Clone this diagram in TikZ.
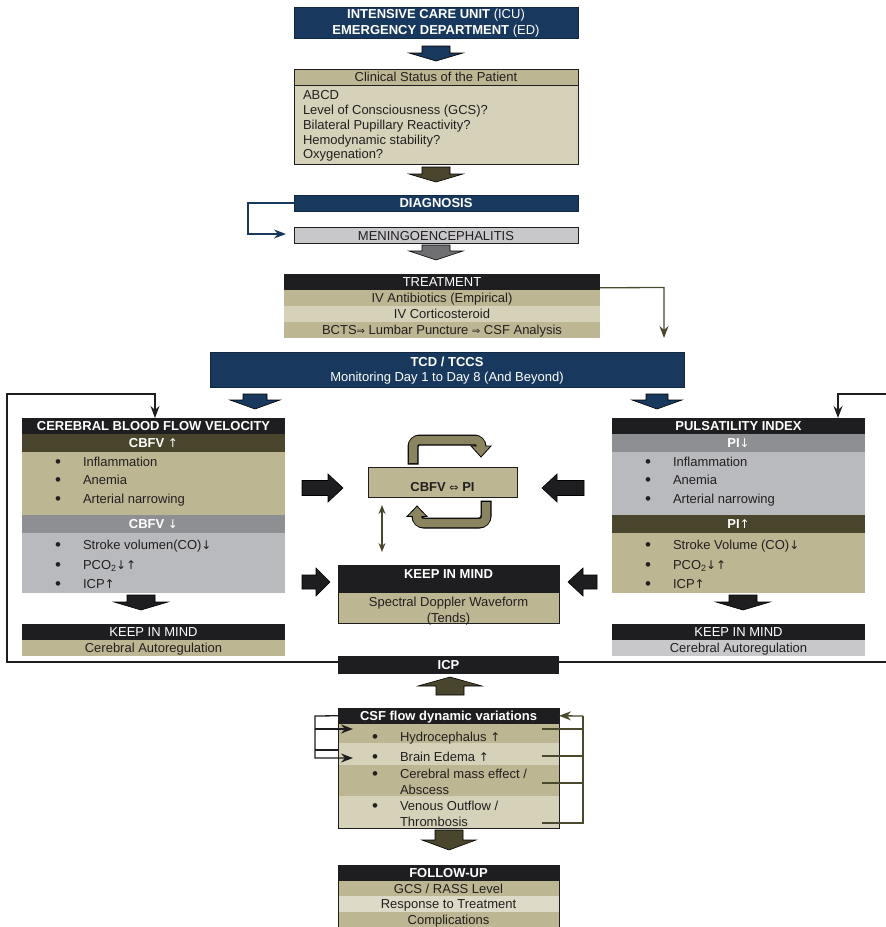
\documentclass[tikz,border=0pt]{standalone}
\usepackage{fontspec}
\setmainfont{Liberation Sans}
\newfontfamily\arrowfont{DejaVu Sans}
\usetikzlibrary{arrows.meta,calc}

\definecolor{navy}{RGB}{24,57,93}
\definecolor{khaki}{RGB}{188,182,146}
\definecolor{paleKhaki}{RGB}{214,210,185}
\definecolor{paleKhakiB}{RGB}{222,218,200}
\definecolor{darkOlive}{RGB}{74,69,45}
\definecolor{inkBlack}{RGB}{30,30,32}
\definecolor{ink}{RGB}{35,31,32}
\definecolor{midGray}{RGB}{142,143,146}
\definecolor{bodyGray}{RGB}{185,186,190}
\definecolor{paleGray}{RGB}{200,200,203}
\definecolor{loopOlive}{RGB}{138,132,96}
\definecolor{lineOlive}{RGB}{74,72,45}
\definecolor{arrowGray}{RGB}{112,112,114}

\newcommand{\fs}{\fontsize{13}{15}\selectfont}
\newcommand{\implies}{{\arrowfont\mdseries\fontsize{10}{10}\selectfont ⇒}}
\newcommand{\iffarrow}{{\arrowfont\mdseries\fontsize{11}{11}\selectfont ⇔}}
\newcommand{\up}{{\arrowfont\mdseries\fontsize{12}{12}\selectfont ↑}}
\newcommand{\dn}{{\arrowfont\mdseries\fontsize{12}{12}\selectfont ↓}}
\newcommand{\subtwo}{\raisebox{-0.3ex}{\fontsize{9}{9}\selectfont 2}}
\newcommand{\dotmark}{{\fontsize{17}{17}\selectfont •}}

% block arrow, vertical: fill, x centre, y shaft end, y head base, y tip, half shaft, half head
\newcommand{\blockV}[7]{\filldraw[fill=#1,draw=black,line width=0.6pt]
  (#2-#6,#3) -- (#2+#6,#3) -- (#2+#6,#4) -- (#2+#7,#4) -- (#2,#5) -- (#2-#7,#4) -- (#2-#6,#4) -- cycle;}
% block arrow, horizontal: fill, y centre, x shaft end, x head base, x tip, half shaft, half head
\newcommand{\blockH}[7]{\filldraw[fill=#1,draw=black,line width=0.6pt]
  (#3,#2-#6) -- (#4,#2-#6) -- (#4,#2-#7) -- (#5,#2) -- (#4,#2+#7) -- (#4,#2+#6) -- (#3,#2+#6) -- cycle;}

\begin{document}
\begin{tikzpicture}[x=1pt,y=-1pt,
  box/.style={anchor=north west,inner sep=0pt,outer sep=0pt,font=\fs,text height=9.3pt,text depth=0pt,text=ink},
  navybox/.style={box,fill=navy,text=white,draw=navy!70!black,line width=0.6pt},
  blackbar/.style={box,fill=inkBlack,text=white},
  olivebar/.style={box,fill=darkOlive,text=white},
  graybar/.style={box,fill=midGray,text=white},
  txt/.style={inner sep=0pt,outer sep=0pt,anchor=base west,font=\fs,text=ink},
  ctxt/.style={txt,anchor=base},
  bul/.style={txt,anchor=base},
  edged/.style={draw=inkBlack,line width=1pt},
  link/.style={line width=1.3pt,line join=miter},
  headed/.style={-{Stealth[length=12pt,width=9pt]}},
]
\useasboundingbox (0,0) rectangle (886,927);
\fill[white] (0,0) rectangle (886,927);
\clip (0,0) rectangle (886,927);

% ---------- admission ----------
\node[navybox,minimum width=284,minimum height=31] (icu) at (294,7) {};
\node[ctxt,text=white] (icuA) at (436,18.5) {\textbf{INTENSIVE CARE UNIT} (ICU)};
\node[ctxt,text=white] (icuB) at (436,34) {\textbf{EMERGENCY DEPARTMENT} (ED)};
\blockV{navy}{436}{46}{53}{61}{14}{27}

% ---------- clinical status ----------
\node[box,fill=khaki,minimum width=284,minimum height=16] (clinhead) at (294,69) {Clinical Status of the Patient};
\node[box,fill=paleKhaki,minimum width=284,minimum height=79] (clinbody) at (294,85) {};
\draw[edged] (clinhead.north west) rectangle (clinbody.south east);
\draw[edged] (clinhead.south west) -- (clinhead.south east);
\node[txt] (cl1) at (303,99) {ABCD};
\node[txt] (cl2) at (303,114) {Level of Consciousness (GCS)?};
\node[txt] (cl3) at (303,129) {Bilateral Pupillary Reactivity?};
\node[txt] (cl4) at (303,144) {Hemodynamic stability?};
\node[txt] (cl5) at (303,158.5) {Oxygenation?};
\blockV{darkOlive}{436}{167}{174}{182}{14}{27}

% ---------- diagnosis ----------
\node[navybox,font=\fs\bfseries,minimum width=284,minimum height=16] (diag) at (294,195) {DIAGNOSIS};
\node[box,fill=paleGray,draw=inkBlack,line width=0.8pt,minimum width=284,minimum height=16] (menin) at (294,227.5) {MENINGOENCEPHALITIS};
\coordinate (dgA) at (248,203);
\coordinate (dgB) at (248,234);
\coordinate (dgC) at (286,234);
\draw[link,navy,headed] (diag.west) -- (dgA) -- (dgB) -- (dgC);
\blockV{arrowGray}{436}{245}{251}{260}{14}{27}

% ---------- treatment ----------
\node[blackbar,minimum width=316,minimum height=15.5] (treat) at (284,274) {TREATMENT};
\node[box,fill=khaki,minimum width=316,minimum height=16] (trA) at (284,289.5) {IV Antibiotics (Empirical)};
\node[box,fill=paleKhaki,minimum width=316,minimum height=16] (trB) at (284,305.5) {IV Corticosteroid};
\node[box,fill=khaki,minimum width=316,minimum height=16] (trC) at (284,321.5) {BCTS\implies{} Lumbar Puncture \implies{} CSF Analysis};
\coordinate (trK) at (664,287.5);
\coordinate (trE) at (664,338);
\draw[link,lineOlive,headed] ([yshift=-6pt]treat.east) -- (trK) -- (trE);

% ---------- monitoring ----------
\node[navybox,minimum width=474,minimum height=35] (tcd) at (210,352.5) {};
\node[ctxt,text=white,font=\fs\bfseries] (tcdA) at (447,366) {TCD / TCCS};
\node[ctxt,text=white] (tcdB) at (447,381) {Monitoring Day 1 to Day 8 (And Beyond)};
\blockV{navy}{255}{394}{400}{409}{12}{25}
\blockV{navy}{657}{394}{400}{409}{11}{25}

% ---------- cerebral blood flow velocity ----------
\node[blackbar,font=\fs\bfseries,minimum width=263,minimum height=15.5] (cbfvhead) at (22,418) {CEREBRAL BLOOD FLOW VELOCITY};
\node[olivebar,font=\fs\bfseries,minimum width=263,minimum height=18.5] (cbfvup) at (22,433.5) {CBFV \up};
\node[box,fill=khaki,minimum width=263,minimum height=63] (cbfvupbody) at (22,452) {};
\node[graybar,font=\fs\bfseries,minimum width=263,minimum height=18] (cbfvdown) at (22,515) {CBFV \dn};
\node[box,fill=bodyGray,minimum width=263,minimum height=60] (cbfvdownbody) at (22,533) {};
\node[bul] (lb1) at (58,467.5) {\dotmark};
\node[bul] (lb2) at (58,485.5) {\dotmark};
\node[bul] (lb3) at (58,504) {\dotmark};
\node[bul] (lb4) at (58,550.5) {\dotmark};
\node[bul] (lb5) at (58,570) {\dotmark};
\node[bul] (lb6) at (58,589.5) {\dotmark};
\node[txt] (lt1) at (83,466.5) {Inflammation};
\node[txt] (lt2) at (83,484.5) {Anemia};
\node[txt] (lt3) at (83,503) {Arterial narrowing};
\node[txt] (lt4) at (83,549.5) {Stroke volumen(CO)\dn};
\node[txt] (lt5) at (83,569) {PCO\subtwo\dn\up};
\node[txt] (lt6) at (83,588.5) {ICP\up};
\blockV{inkBlack}{141}{595}{602}{610}{14}{27}
\node[blackbar,minimum width=263,minimum height=16] (lkeep) at (22,624) {KEEP IN MIND};
\node[box,fill=khaki,minimum width=263,minimum height=16] (lauto) at (22,640) {Cerebral Autoregulation};

% ---------- pulsatility index ----------
\node[blackbar,font=\fs\bfseries,minimum width=253,minimum height=15.5] (pihead) at (612,418) {PULSATILITY INDEX};
\node[graybar,font=\fs\bfseries,minimum width=253,minimum height=18.5] (pidown) at (612,433.5) {PI\dn};
\node[box,fill=bodyGray,minimum width=253,minimum height=63] (pidownbody) at (612,452) {};
\node[olivebar,font=\fs\bfseries,minimum width=253,minimum height=18] (piup) at (612,515) {PI\up};
\node[box,fill=khaki,minimum width=253,minimum height=60] (piupbody) at (612,533) {};
\node[bul] (rb1) at (648,467.5) {\dotmark};
\node[bul] (rb2) at (648,485.5) {\dotmark};
\node[bul] (rb3) at (648,504) {\dotmark};
\node[bul] (rb4) at (648,550.5) {\dotmark};
\node[bul] (rb5) at (648,570) {\dotmark};
\node[bul] (rb6) at (648,589.5) {\dotmark};
\node[txt] (rt1) at (673,466.5) {Inflammation};
\node[txt] (rt2) at (673,484.5) {Anemia};
\node[txt] (rt3) at (673,503) {Arterial narrowing};
\node[txt] (rt4) at (673,549.5) {Stroke Volume (CO)\dn};
\node[txt] (rt5) at (673,569) {PCO\subtwo\dn\up};
\node[txt] (rt6) at (673,588.5) {ICP\up};
\blockV{inkBlack}{743}{595}{602}{610}{14}{27}
\node[blackbar,minimum width=253,minimum height=16] (rkeep) at (612,624) {KEEP IN MIND};
\node[box,fill=paleGray,minimum width=253,minimum height=16] (rauto) at (612,640) {Cerebral Autoregulation};

% ---------- centre ----------
\blockH{inkBlack}{488}{302}{328}{343}{7.5}{14}
\blockH{inkBlack}{488}{584}{557}{542}{7.5}{14}
\blockH{inkBlack}{582}{302}{316}{330}{7}{14}
\blockH{inkBlack}{582}{597}{583}{568}{7}{14}

\node[box,fill=khaki,draw=inkBlack,line width=1pt,minimum width=149,minimum height=30] (ratio) at (368,467) {};
\node[ctxt,font=\fs\bfseries] (ratiotxt) at (442.5,491.5) {CBFV \iffarrow{} PI};

% cycling arrows round the ratio box
\draw[black,line width=11pt,rounded corners=7pt] (413,464.5) -- (413,440) -- (481,440) -- (481,447.5);
\filldraw[fill=loopOlive,draw=black,line width=0.8pt] (471,446) -- (491,446) -- (481,457) -- cycle;
\draw[loopOlive,line width=8.5pt,rounded corners=6pt] (413,463) -- (413,440) -- (481,440) -- (481,447.5);
\draw[black,line width=11pt,rounded corners=7pt] (486,500.5) -- (486,523) -- (417,523) -- (417,515);
\filldraw[fill=loopOlive,draw=black,line width=0.8pt] (407,516.5) -- (427,516.5) -- (417,506) -- cycle;
\draw[loopOlive,line width=8.5pt,rounded corners=6pt] (486,502) -- (486,523) -- (417,523) -- (417,515);

\coordinate (dblA) at (382,505);
\coordinate (dblB) at (382,552);
\draw[lineOlive,line width=1.2pt,{Stealth[length=9pt,width=7pt]}-{Stealth[length=9pt,width=7pt]}] (dblA) -- (dblB);

\node[box,fill=khaki,minimum width=221,minimum height=58] (keepc) at (338,565) {};
\node[box,fill=inkBlack,minimum width=221,minimum height=28] (keepchead) at (338,565) {};
\draw[edged] (keepc.north west) rectangle (keepc.south east);
\node[ctxt,text=white,font=\fs\bfseries] (keepcA) at (448.5,578) {KEEP IN MIND};
\node[ctxt] (keepcB) at (448.5,606) {Spectral Doppler Waveform};
\node[ctxt] (keepcC) at (448.5,622) {(Tends)};

% ---------- ICP and the feedback loops ----------
\node[blackbar,font=\fs\bfseries,minimum width=221,minimum height=18] (icp) at (338,656) {ICP};
\coordinate (lloopA) at (7,662);
\coordinate (lloopB) at (7,394);
\coordinate (lloopC) at (155,394);
\draw[link,inkBlack,headed] ([yshift=3pt]icp.west) -- (lloopA) -- (lloopB) -- (lloopC) -- (lloopC |- cbfvhead.north);
\coordinate (rloopA) at (893,662);
\coordinate (rloopB) at (893,394);
\coordinate (rloopC) at (838,394);
\draw[link,inkBlack,headed] ([yshift=3pt]icp.east) -- (rloopA) -- (rloopB) -- (rloopC) -- (rloopC |- pihead.north);
\blockV{darkOlive}{450}{695}{686}{677}{14}{32}

% ---------- CSF dynamics ----------
\node[blackbar,font=\fs\bfseries,minimum width=221,minimum height=15.5] (csfhead) at (338,708) {CSF flow dynamic variations};
\node[box,fill=khaki,minimum width=221,minimum height=19.5] (hydro) at (338,723.5) {};
\node[box,fill=paleKhaki,minimum width=221,minimum height=22] (edema) at (338,743) {};
\node[box,fill=khaki,minimum width=221,minimum height=31] (mass) at (338,765) {};
\node[box,fill=paleKhaki,minimum width=221,minimum height=32] (venous) at (338,796) {};
\draw[edged] (csfhead.north west) rectangle (venous.south east);
\node[bul] (cb1) at (375,742.5) {\dotmark};
\node[bul] (cb2) at (375,762) {\dotmark};
\node[bul] (cb3) at (375,779.5) {\dotmark};
\node[bul] (cb4) at (375,811.5) {\dotmark};
\node[txt] (ct1) at (400,741.5) {Hydrocephalus \up};
\node[txt] (ct2) at (400,761) {Brain Edema \up};
\node[txt] (ct3) at (400,778.5) {Cerebral mass effect /};
\node[txt] (ct3b) at (400,794) {Abscess};
\node[txt] (ct4) at (400,810.5) {Venous Outflow /};
\node[txt] (ct4b) at (400,826) {Thrombosis};

\coordinate (clA) at (315,716);
\coordinate (clB) at (315,758);
\coordinate (clBe) at (353,758);
\coordinate (clC) at (315,729);
\coordinate (clCe) at (353,729);
\coordinate (clD) at (315,750);
\coordinate (clDe) at (338,750);
\draw[link,inkBlack,headed] (csfhead.west) -- (clA) -- (clB) -- (clBe);
\draw[link,inkBlack,headed] (clC) -- (clCe);
\draw[link,inkBlack] (clD) -- (clDe);

\coordinate (crTop) at (583,716);
\coordinate (crBot) at (583,823);
\coordinate (cr1) at (542,729);
\coordinate (cr2) at (542,756);
\coordinate (cr3) at (542,783);
\coordinate (cr4) at (542,823);
\draw[link,lineOlive] (cr4) -- (crBot) -- (crTop);
\draw[link,lineOlive,headed] (crTop) -- (csfhead.east);
\draw[link,lineOlive] (cr1) -- (cr1 -| crTop);
\draw[link,lineOlive] (cr2) -- (cr2 -| crTop);
\draw[link,lineOlive] (cr3) -- (cr3 -| crTop);
\blockV{darkOlive}{449}{830}{840}{850}{14}{27}

% ---------- follow-up ----------
\node[blackbar,font=\fs\bfseries,minimum width=221,minimum height=16] (fu) at (338,865) {FOLLOW-UP};
\node[box,fill=khaki,minimum width=221,minimum height=15] (fuA) at (338,881) {GCS / RASS Level};
\node[box,fill=paleKhakiB,minimum width=221,minimum height=15.5] (fuB) at (338,896) {Response to Treatment};
\node[box,fill=khaki,minimum width=221,minimum height=16] (fuC) at (338,911.5) {Complications};
\draw[edged] (fu.north west) -- (fuC.south west);
\draw[edged] (fu.north east) -- (fuC.south east);
\end{tikzpicture}
\end{document}
